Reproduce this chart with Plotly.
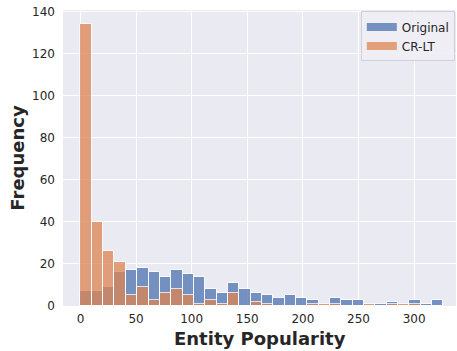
import plotly.graph_objects as go

# Histogram bins (shared by both series)
bin_start = 0.0
bin_width = 10.2
n_bins = 32

original_counts = [7, 7, 9, 16, 17, 18, 16, 14, 17, 15, 14, 8, 6, 11, 8, 6,
                   5, 4, 5, 4, 3, 0, 4, 3, 3, 0, 1, 2, 0, 3, 1, 3]
crlt_counts = [134, 40, 26, 21, 5, 9, 3, 6, 8, 5, 1, 3, 1, 6, 0, 2,
               1, 0, 0, 0, 1, 1, 1, 0, 0, 1, 0, 1, 1, 1, 0, 0]

series_names = ["Original", "CR-LT"]
colors = ["#4C72B0", "#DD8452"]
x_ticks = [0, 50, 100, 150, 200, 250, 300]
y_ticks = [0, 20, 40, 60, 80, 100, 120, 140]

centers = [bin_start + (i + 0.5) * bin_width for i in range(n_bins)]

fig = go.Figure()
for name, counts, col in zip(series_names, [original_counts, crlt_counts], colors):
    fig.add_trace(go.Bar(
        x=centers, y=counts, width=[bin_width] * n_bins,
        marker=dict(color=col, line=dict(color="white", width=1)),
        opacity=0.75, name=name, showlegend=False,
    ))
    # legend proxy (wide patch like matplotlib)
    fig.add_trace(go.Scatter(
        x=[None], y=[None], mode="lines", name=name,
        line=dict(color=col, width=8), opacity=0.75,
    ))

font_fam = "DejaVu Sans"
fig.update_layout(
    width=457, height=351,
    margin=dict(l=63, r=1, t=10, b=45, autoexpand=False),
    paper_bgcolor="white", plot_bgcolor="#EAEAF2",
    barmode="overlay", bargap=0,
    font=dict(family=font_fam, size=12, color="#262626"),
    showlegend=True,
    legend=dict(
        x=0.997, y=0.995, xanchor="right", yanchor="top",
        bgcolor="rgba(238,238,244,0.9)", bordercolor="#d0d0d8", borderwidth=1,
        font=dict(family=font_fam, size=12, color="#262626"),
        itemwidth=30, tracegroupgap=0,
    ),
    xaxis=dict(
        range=[-15.7, 337.7], tickvals=x_ticks, showgrid=True,
        gridcolor="white", gridwidth=1, zeroline=False, showline=False,
        ticks="", tickfont=dict(size=12, color="#262626"), automargin=False,
        ticklabelstandoff=4,
    ),
    yaxis=dict(
        range=[0, 140.7], tickvals=y_ticks, showgrid=True,
        gridcolor="white", gridwidth=1, zeroline=False, showline=False,
        ticks="", tickfont=dict(size=12, color="#262626"), automargin=False,
        ticklabelstandoff=7,
    ),
    annotations=[
        dict(text="<b>Entity Popularity</b>", xref="paper", yref="paper",
             x=0.5, y=-0.11, xanchor="center", yanchor="middle", showarrow=False,
             font=dict(size=18, color="#262626", family=font_fam)),
        dict(text="<b>Frequency</b>", xref="paper", yref="paper",
             x=-0.118, y=0.5, xanchor="center", yanchor="middle", showarrow=False,
             textangle=-90, font=dict(size=18, color="#262626", family=font_fam)),
    ],
)

fig.write_html("out.html", config={"displayModeBar": False},
               post_script="document.body.style.margin='0';document.body.style.padding='0';")
